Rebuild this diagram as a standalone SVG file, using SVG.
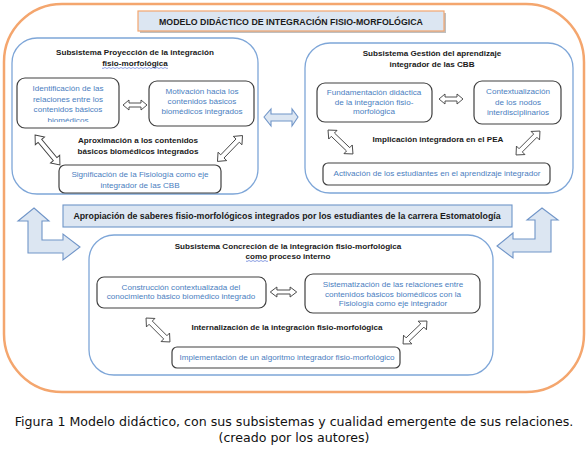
<svg xmlns="http://www.w3.org/2000/svg" width="588" height="449" viewBox="0 0 588 449">
<style>
.h{font-family:"Liberation Sans",Arial,sans-serif;font-weight:bold;font-size:8.1px;fill:#1a1a1a;text-anchor:middle}
.b{font-family:"Liberation Sans",Arial,sans-serif;font-size:8.1px;fill:#4a7ec0;text-anchor:middle}
.sub{fill:#fff;stroke:#7ea6d8;stroke-width:1.3}
.box{fill:#fff;stroke:#404040;stroke-width:1.2}
.da{fill:#fff;stroke:#404040;stroke-width:0.9}
.big{fill:#dce6f2;stroke:#7095c8;stroke-width:1.1}
.cap{font-family:"DejaVu Sans",Verdana,sans-serif;font-size:12.6px;fill:#111;text-anchor:middle}
.wavy{fill:none;stroke:#4060d0;stroke-width:0.6}
</style>
<defs>
<path id="dh" d="M-12,0 L-6,-5 L-6,-2 L6,-2 L6,-5 L12,0 L6,5 L6,2 L-6,2 L-6,5 Z"/>
<path id="dd" d="M-18,0 L-11,-6 L-11,-2.3 L11,-2.3 L11,-6 L18,0 L11,6 L11,2.3 L-11,2.3 L-11,6 Z"/>
<clipPath id="c1"><rect x="17" y="78" width="102" height="44"/></clipPath>
</defs>
<rect width="588" height="449" fill="#fff"/>
<rect x="4" y="4" width="580" height="388" rx="58" ry="58" fill="#fff" stroke="#f4a66e" stroke-width="2.5"/>

<g id="title">
<rect x="140" y="13" width="306" height="20" fill="#bfbfbf"/>
<rect x="138" y="11" width="306" height="20" fill="#dce6f2" stroke="#f4a66e" stroke-width="1.2"/>
<text class="h" x="291" y="24.5" style="font-size:8.8px">MODELO DIDÁCTICO DE INTEGRACIÓN FISIO-MORFOLÓGICA</text>
</g>

<g id="sub-proyeccion">
<rect class="sub" x="12" y="38" width="246" height="156" rx="25"/>
<text class="h" x="135" y="55">Subsistema Proyección de la integración</text>
<text class="h" x="135" y="66">fisio-morfológica</text>
<path class="wavy" d="M102,68 q1,1 2,0 t2,0 t2,0 t2,0 t2,0 t2,0 t2,0 t2,0 t2,0 t2,0 t2,0 t2,0 t2,0 t2,0 t2,0 t2,0 t2,0 t2,0 t2,0 t2,0 t2,0 t2,0 t2,0 t2,0 t2,0 t2,0 t2,0 t2,0 t2,0 t2,0 t2,0 t2,0 t2,0"/>
</g>
<g id="n-identificacion">
<rect class="box" x="17" y="78" width="102" height="50" rx="8"/>
<g clip-path="url(#c1)">
<text class="b" x="68" y="91">Identificación de las</text>
<text class="b" x="68" y="101.5">relaciones entre los</text>
<text class="b" x="68" y="112">contenidos básicos</text>
<text class="b" x="68" y="122.5">biomédicos</text>
</g>
</g>
<g id="n-motivacion">
<rect class="box" x="149" y="81" width="105" height="45" rx="8"/>
<text class="b" x="202" y="94">Motivación hacia los</text>
<text class="b" x="202" y="104">contenidos básicos</text>
<text class="b" x="202" y="114">biomédicos integrados</text>
</g>
<g id="t-aproximacion">
<text class="h" x="138" y="143">Aproximación a los contenidos</text>
<text class="h" x="138" y="154">básicos biomédicos integrados</text>
</g>
<g id="n-significacion">
<rect class="box" x="59" y="165" width="162" height="28" rx="6"/>
<text class="b" x="140" y="177">Significación de la Fisiología como eje</text>
<text class="b" x="140" y="188">integrador de las CBB</text>
</g>

<g id="sub-gestion">
<rect class="sub" x="305" y="43" width="268" height="150" rx="25"/>
<text class="h" x="432" y="56">Subsistema Gestión del aprendizaje</text>
<text class="h" x="432" y="67">integrador de las CBB</text>
</g>
<g id="n-fundamentacion">
<rect class="box" x="317" y="83" width="115" height="39" rx="8"/>
<text class="b" x="374" y="95">Fundamentación didáctica</text>
<text class="b" x="374" y="105">de la  integración fisio-</text>
<text class="b" x="374" y="114">morfológica</text>
</g>
<g id="n-contextualizacion">
<rect class="box" x="474" y="81" width="87" height="43" rx="8"/>
<text class="b" x="518" y="94">Contextualización</text>
<text class="b" x="518" y="105">de los nodos</text>
<text class="b" x="518" y="115">interdisciplinarios</text>
</g>
<g id="t-implicacion">
<text class="h" x="438" y="142">Implicación integradora en el PEA</text>
</g>
<g id="n-activacion">
<rect class="box" x="323" y="163" width="227" height="22" rx="5"/>
<text class="b" x="437" y="176">Activación de los estudiantes en el aprendizaje integrador</text>
</g>

<g id="band">
<rect x="63" y="205" width="449" height="22" fill="#dce6f2" stroke="#6e95c8" stroke-width="1.1"/>
<text class="h" x="287" y="219" style="font-size:8.8px">Apropiación de saberes fisio-morfológicos integrados por los estudiantes de la carrera Estomatología</text>
</g>

<g id="sub-concrecion">
<rect class="sub" x="89" y="235" width="404" height="140" rx="25"/>
<text class="h" x="288" y="249">Subsistema Concreción de la integración fisio-morfológica</text>
<text class="h" x="288" y="259">como proceso interno</text>
<path class="wavy" d="M246,261 q1,1 2,0 t2,0 t2,0 t2,0 t2,0 t2,0 t2,0 t2,0 t2,0 t2,0 t2,0"/>
</g>
<g id="n-construccion">
<rect class="box" x="97" y="277" width="169" height="31" rx="7"/>
<text class="b" x="181" y="290">Construcción contextualizada del</text>
<text class="b" x="181" y="299">conocimiento básico biomédico integrado</text>
</g>
<g id="n-sistematizacion">
<rect class="box" x="305" y="274" width="175" height="39" rx="8"/>
<text class="b" x="393" y="287">Sistematización de las relaciones entre</text>
<text class="b" x="393" y="297">contenidos básicos biomédicos con la</text>
<text class="b" x="393" y="306">Fisiología como eje integrador</text>
</g>
<g id="t-internalizacion">
<text class="h" x="287" y="330">Internalización de la integración fisio-morfológica</text>
</g>
<g id="n-implementacion">
<rect class="box" x="172" y="347" width="228" height="21" rx="5"/>
<text class="b" x="287" y="360">Implementación de un algoritmo integrador fisio-morfológico</text>
</g>

<g id="connectors">
<use href="#dh" class="da" transform="translate(135,105)"/>
<use href="#dh" class="da" transform="translate(451,99)"/>
<use href="#dh" class="da" transform="translate(283.5,292) scale(1.1,1)"/>
<use href="#dd" class="da" transform="translate(47.5,150) rotate(50.2) scale(1.08,1)"/>
<use href="#dd" class="da" transform="translate(230,148.5) rotate(-46)"/>
<use href="#dd" class="da" transform="translate(340.5,142) rotate(43.8) scale(0.96,1)"/>
<use href="#dd" class="da" transform="translate(528,143) rotate(-45) scale(0.94,1)"/>
<use href="#dd" class="da" transform="translate(158,330) rotate(45) scale(0.94,1)"/>
<use href="#dd" class="da" transform="translate(415,332.5) rotate(-43.8) scale(0.92,1)"/>
<path class="big" d="M264,117 L271,109 L271,114 L292,114 L292,109 L298,117 L292,126 L292,121 L271,121 L271,126 Z"/>
<path class="big" d="M34,208 L49,221 L42,221 L42,240 L63,240 L63,234 L80,247 L63,260 L63,253 L28,253 L28,221 L18,221 Z"/>
<path class="big" d="M542,208 L558,220 L551,220 L551,252 L513,252 L513,258 L497,246 L513,233 L513,239 L535,239 L535,220 L527,220 Z"/>
</g>

<g id="caption">
<text class="cap" x="294" y="426">Figura 1 Modelo didáctico, con sus subsistemas y cualidad emergente de sus relaciones.</text>
<text class="cap" x="294" y="442">(creado por los autores)</text>
</g>
</svg>
